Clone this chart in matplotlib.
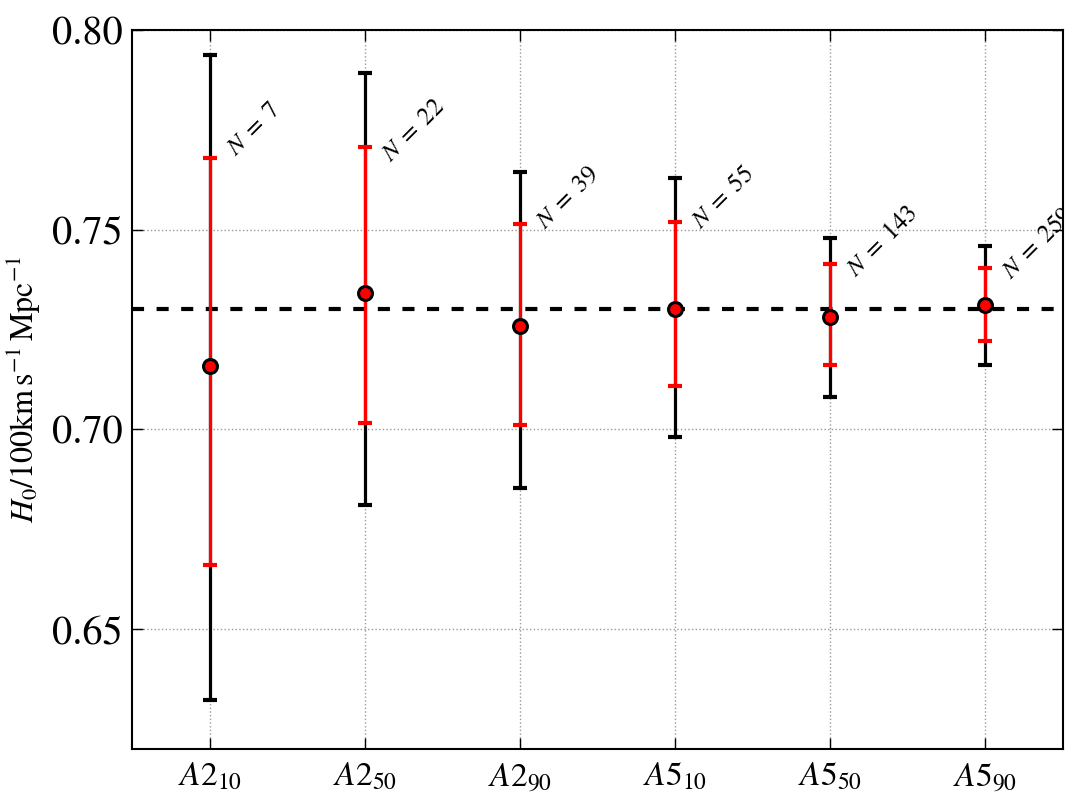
import matplotlib
matplotlib.use("Agg")
import matplotlib.pyplot as plt
import numpy as np

plt.rcParams['mathtext.fontset'] = 'stix'
plt.rcParams['font.family'] = ['STIXGeneral', 'DejaVu Serif']

labels = [r'$A2_{10}$', r'$A2_{50}$', r'$A2_{90}$', r'$A5_{10}$', r'$A5_{50}$', r'$A5_{90}$']
h0 = [0.7158, 0.7342, 0.7258, 0.7302, 0.7282, 0.7312]
# outer (black) and inner (red) bounds
black_lo = [0.6322, 0.6810, 0.6852, 0.6980, 0.7082, 0.7162]
black_hi = [0.7937, 0.7893, 0.7645, 0.7628, 0.7480, 0.7458]
red_lo = [0.6660, 0.7017, 0.7012, 0.7108, 0.7160, 0.7222]
red_hi = [0.7680, 0.7708, 0.7513, 0.7520, 0.7413, 0.7405]
n_sn = [7, 22, 39, 55, 143, 259]
n_label_y = [0.7683, 0.7668, 0.7500, 0.7500, 0.7380, 0.7375]
h0_ref = 0.73

x = np.arange(len(labels))
h0 = np.array(h0)

fig, ax = plt.subplots(figsize=(10.91, 8.07), dpi=100)
fig.subplots_adjust(left=0.121, right=0.974, top=0.963, bottom=0.072)

ax.axhline(h0_ref, color='black', ls='--', lw=3, dashes=(2.9, 3.0), zorder=1)

ax.errorbar(x, h0, yerr=[h0 - black_lo, np.array(black_hi) - h0], fmt='none',
            ecolor='black', elinewidth=2.3, capsize=5, capthick=3, zorder=2)
ax.errorbar(x, h0, yerr=[h0 - red_lo, np.array(red_hi) - h0], fmt='none',
            ecolor='red', elinewidth=2.3, capsize=5, capthick=3, zorder=3)
ax.plot(x, h0, 'o', color='red', mec='black', mew=2.2, ms=10, zorder=4)

for xi, ly, n in zip(x, n_label_y, n_sn):
    ax.text(xi + 0.165, ly, r'$N\;=\;%d$' % n, rotation=45,
            rotation_mode='anchor', ha='left', va='baseline', fontsize=18,
            clip_on=True)

ax.set_xlim(-0.5, 5.5)
ax.set_ylim(0.62, 0.80)
ax.set_xticks(x)
ax.set_xticklabels(labels, fontsize=24)
ax.set_yticks([0.65, 0.70, 0.75, 0.80])
ax.set_yticklabels(['0.65', '0.70', '0.75', '0.80'], fontsize=29)
ax.set_ylabel(r'$H_0/100\mathrm{km\,s^{-1}\,Mpc^{-1}}$', fontsize=23, labelpad=6)

ax.tick_params(direction='in', length=8, width=1, top=True, right=True)
ax.tick_params(axis='y', pad=7)
ax.tick_params(axis='x', pad=9)
ax.grid(True, color='gray', ls=':', lw=1, alpha=0.8)
for s in ax.spines.values():
    s.set_linewidth(1.5)

fig.savefig('out.png', dpi=100)
